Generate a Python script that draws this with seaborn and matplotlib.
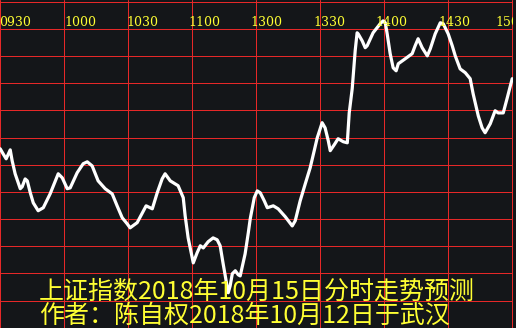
import numpy as np
import pandas as pd
import matplotlib
matplotlib.use("Agg")
import matplotlib.pyplot as plt
import matplotlib.transforms as mtransforms
import seaborn as sns

# ---- data (minutes since 09:30 on the trading clock, index level) ----
minutes = [0.0, 1.4, 2.8, 4.7, 5.6, 7.0, 9.4, 10.3, 11.7, 12.7, 14.1, 15.5, 17.8, 20.2,
           23.4, 27.2, 29.1, 31.4, 32.8, 36.1, 38.9, 40.8, 43.1, 45.9, 49.2, 52.5, 54.8,
           57.2, 59.5, 60.9, 64.2, 68.4, 71.3, 73.6, 75.9, 77.3, 79.7, 83.4, 85.8, 86.7,
           88.1, 90.5, 92.3, 93.8, 95.2, 97.5, 99.8, 101.7, 103.1, 104.5, 105.9, 106.9,
           107.8, 108.8, 110.2, 111.6, 112.5, 114.8, 116.3, 117.2, 119.1, 120.5, 121.9,
           123.8, 125.2, 128.0, 130.3, 133.6, 136.9, 138.3, 140.6, 143.0, 145.3, 147.2,
           148.6, 150.9, 152.3, 153.8, 154.7, 156.6, 158.4, 160.8, 162.7, 163.6, 165.0,
           166.4, 167.3, 167.8, 169.7, 171.1, 172.0, 174.8, 178.1, 179.5, 180.5, 181.4,
           182.8, 184.2, 185.6, 186.6, 189.8, 193.1, 194.5, 195.9, 197.8, 200.2, 201.6,
           203.9, 206.3, 207.7, 210.0, 211.9, 213.3, 215.6, 218.0, 220.3, 221.7, 224.1,
           225.9, 227.3, 229.7, 232.0, 233.4, 235.8, 237.7, 240.0]
index_level = [2605.9, 2604.0, 2602.2, 2605.5, 2601.5, 2596.7, 2591.2, 2591.9, 2594.8,
               2594.1, 2589.7, 2586.0, 2583.1, 2584.2, 2589.3, 2596.7, 2595.2, 2591.2,
               2591.5, 2597.1, 2600.4, 2601.1, 2599.6, 2594.1, 2591.2, 2589.3, 2584.9,
               2580.5, 2578.3, 2576.8, 2578.7, 2584.9, 2583.8, 2589.7, 2594.8, 2596.7,
               2594.1, 2592.3, 2587.9, 2581.2, 2573.1, 2563.9, 2567.6, 2570.2, 2569.4,
               2571.7, 2573.1, 2572.4, 2570.2, 2563.6, 2557.3, 2552.9, 2555.5, 2559.9,
               2561.0, 2559.5, 2559.1, 2567.2, 2575.0, 2580.1, 2587.9, 2590.4, 2589.7,
               2586.7, 2584.2, 2584.9, 2583.8, 2580.9, 2577.5, 2579.4, 2586.7, 2593.0,
               2598.9, 2605.2, 2609.9, 2615.5, 2613.6, 2608.8, 2605.2, 2607.4, 2609.6,
               2608.5, 2608.1, 2619.1, 2628.0, 2642.0, 2648.6, 2648.2, 2645.6, 2643.1,
               2643.8, 2648.6, 2651.9, 2653.0, 2652.3, 2648.2, 2640.9, 2635.7, 2634.6,
               2637.2, 2639.0, 2640.9, 2643.8, 2646.4, 2643.1, 2640.1, 2642.7, 2648.2,
               2652.3, 2651.9, 2648.2, 2643.8, 2640.1, 2635.3, 2633.9, 2631.7, 2626.1,
               2618.0, 2613.6, 2611.8, 2615.1, 2619.9, 2619.1, 2619.1, 2624.7, 2631.7]
time_labels = ["0930", "1000", "1030", "1100", "1300", "1330", "1400", "1430", "1500"]
label_x = [-0.5, 30.0, 59.1, 88.1, 117.2, 146.7, 175.8, 205.3, 232.2]
title_line1 = "上证指数2018年10月15日分时走势预测"
title_line2 = "作者：陈自权2018年10月12日于武汉"

BG = "#141619"
GRID = "#E62828"
YELLOW = "#FFFF33"

sns.set_theme(style="dark", rc={"axes.facecolor": BG, "figure.facecolor": BG,
                                "grid.color": GRID, "grid.linewidth": 0.72,
                                "grid.linestyle": "-", "grid.alpha": 1.0})
plt.rcParams["font.family"] = ["Noto Sans CJK SC", "DejaVu Sans"]

df = pd.DataFrame({"minute": minutes, "level": index_level})

W, H = 516, 328
fig = plt.figure(figsize=(W / 100, H / 100), dpi=100)
ax = fig.add_axes([0, 0, 513 / W, 1])

sns.lineplot(data=df, x="minute", y="level", sort=False, color="white",
             linewidth=2.3, ax=ax, zorder=3, solid_joinstyle="round", solid_capstyle="round")

pxm = 512 / 240
ax.set_xlim(-0.2 / pxm, -0.2 / pxm + 513 / pxm)
pyu = 326 / 120
ax.set_ylim(2540 - 0.2 / pyu, 2540 - 0.2 / pyu + H / pyu)
ax.set_xticks(np.arange(0, 241, 30))
ax.set_yticks(np.arange(2540, 2661, 10))
ax.xaxis.grid(True, color=GRID, linewidth=0.72, alpha=1.0)
ax.yaxis.grid(True, color=GRID, linewidth=0.72, alpha=1.0)
ax.set_axisbelow(True)
ax.tick_params(length=0, labelbottom=False, labelleft=False)
ax.set_xlabel("")
ax.set_ylabel("")
for s in ax.spines.values():
    s.set_visible(False)

trans = mtransforms.blended_transform_factory(ax.transData, ax.transAxes)
for lx, lab in zip(label_x, time_labels):
    ax.text(lx, (H - 26.5) / H, lab, transform=trans, ha="left", va="baseline",
            color=YELLOW, fontsize=9, family=["DejaVu Serif"], clip_on=True, zorder=4)

fig.text(39 / W, 29.5 / H, title_line1, ha="left", va="baseline", color=YELLOW,
         fontsize=18, family=["Noto Sans CJK SC", "DejaVu Sans"], zorder=5)
fig.text(39 / W, 5.5 / H, title_line2, ha="left", va="baseline", color=YELLOW,
         fontsize=18, family=["Noto Sans CJK SC", "DejaVu Sans"], zorder=5)

fig.savefig("out.png", dpi=100, facecolor=BG)
